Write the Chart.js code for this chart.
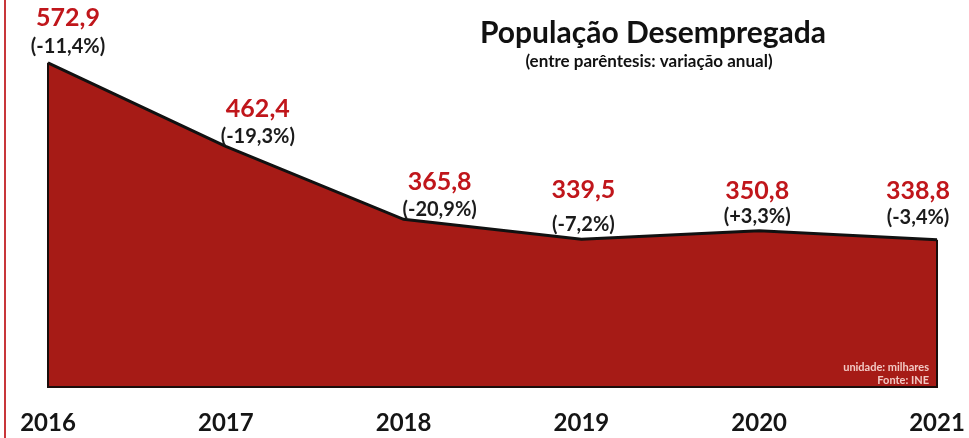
<!DOCTYPE html>
<html>
<head>
<meta charset="utf-8">
<script src="https://cdn.jsdelivr.net/npm/chart.js@4/dist/chart.umd.min.js"></script>
<style>
  html, body { margin: 0; padding: 0; background: #fff; }
  canvas { display: block; }
</style>
</head>
<body>
<canvas id="Chart" width="969" height="438"></canvas>
<script>
// dados (milhares)
const years = ['2016', '2017', '2018', '2019', '2020', '2021'];
const unemployed = [572.9, 462.4, 365.8, 339.5, 350.8, 338.8];
const valueLabels = ['572,9', '462,4', '365,8', '339,5', '350,8', '338,8'];
const changeLabels = ['(-11,4%)', '(-19,3%)', '(-20,9%)', '(-7,2%)', '(+3,3%)', '(-3,4%)'];

const FONT = 'Lato, "Open Sans", sans-serif';

// desenha os rótulos, o contorno e os textos fixos
const decorations = {
  id: 'decorations',
  afterDatasetsDraw(chart) {
    const ctx = chart.ctx;
    const pts = chart.getDatasetMeta(0).data;
    const bottom = chart.chartArea.bottom;
    const first = pts[0], last = pts[pts.length - 1];

    // contorno da área
    ctx.save();
    ctx.strokeStyle = '#1a0d0b';
    ctx.lineWidth = 2;
    ctx.beginPath();
    ctx.moveTo(first.x, first.y);
    ctx.lineTo(first.x, bottom);
    ctx.lineTo(last.x, bottom);
    ctx.lineTo(last.x, last.y);
    ctx.stroke();
    ctx.restore();

    // posição dos rótulos relativa ao ponto
    const dx = [20, 32, 36, 2, -2, -19];
    const dyValue = [-45, -37, -37, -49, -40, -49];
    const dyChange = [-16, -10, -10, -15, -14, -22];
    ctx.save();
    ctx.textAlign = 'center';
    ctx.textBaseline = 'middle';
    pts.forEach((p, i) => {
      const x = p.x + dx[i];
      ctx.fillStyle = '#c0161b';
      ctx.font = 'bold 25px ' + FONT;
      ctx.fillText(valueLabels[i], x, p.y + dyValue[i]);
      ctx.fillStyle = '#1b1b1b';
      ctx.font = 'bold 20px ' + FONT;
      ctx.fillText(changeLabels[i], x, p.y + dyChange[i]);
    });

    // título
    ctx.fillStyle = '#111';
    ctx.font = 'bold 30px ' + FONT;
    ctx.fillText('População Desempregada', 653, 33);
    ctx.font = 'bold 17px ' + FONT;
    ctx.fillText('(entre parêntesis: variação anual)', 649, 62);

    // unidade e fonte
    ctx.textAlign = 'right';
    ctx.fillStyle = '#f2c9c4';
    ctx.font = 'bold 11px ' + FONT;
    ctx.fillText('unidade: milhares', last.x - 8, bottom - 20);
    ctx.fillText('Fonte: INE', last.x - 8, bottom - 7);

    // linha vermelha à esquerda
    ctx.strokeStyle = '#c8363a';
    ctx.lineWidth = 2;
    ctx.beginPath();
    ctx.moveTo(5, 0);
    ctx.lineTo(5, chart.height);
    ctx.stroke();
    ctx.restore();
  }
};

new Chart(document.getElementById('Chart'), {
  type: 'line',
  data: {
    labels: years,
    datasets: [{
      data: unemployed,
      borderColor: '#111111',
      borderWidth: 3,
      backgroundColor: '#a61b16',
      fill: 'start',
      tension: 0,
      pointRadius: 0
    }]
  },
  options: {
    responsive: false,
    animation: false,
    layout: { padding: { left: 48, right: 32, top: 0, bottom: 0 } },
    plugins: {
      legend: { display: false },
      tooltip: { enabled: false }
    },
    scales: {
      x: {
        offset: false,
        grid: { display: false, drawTicks: false },
        border: { display: false },
        afterFit(scale) {
          scale.height = 51;
          scale.paddingLeft = 0;
          scale.paddingRight = 0;
        },
        ticks: {
          color: '#151515',
          padding: 22,
          maxRotation: 0,
          autoSkip: false,
          font: { family: FONT, size: 24, weight: 'bold' }
        }
      },
      y: {
        display: false,
        min: 144,
        max: 656
      }
    }
  },
  plugins: [decorations]
});
</script>
</body>
</html>
